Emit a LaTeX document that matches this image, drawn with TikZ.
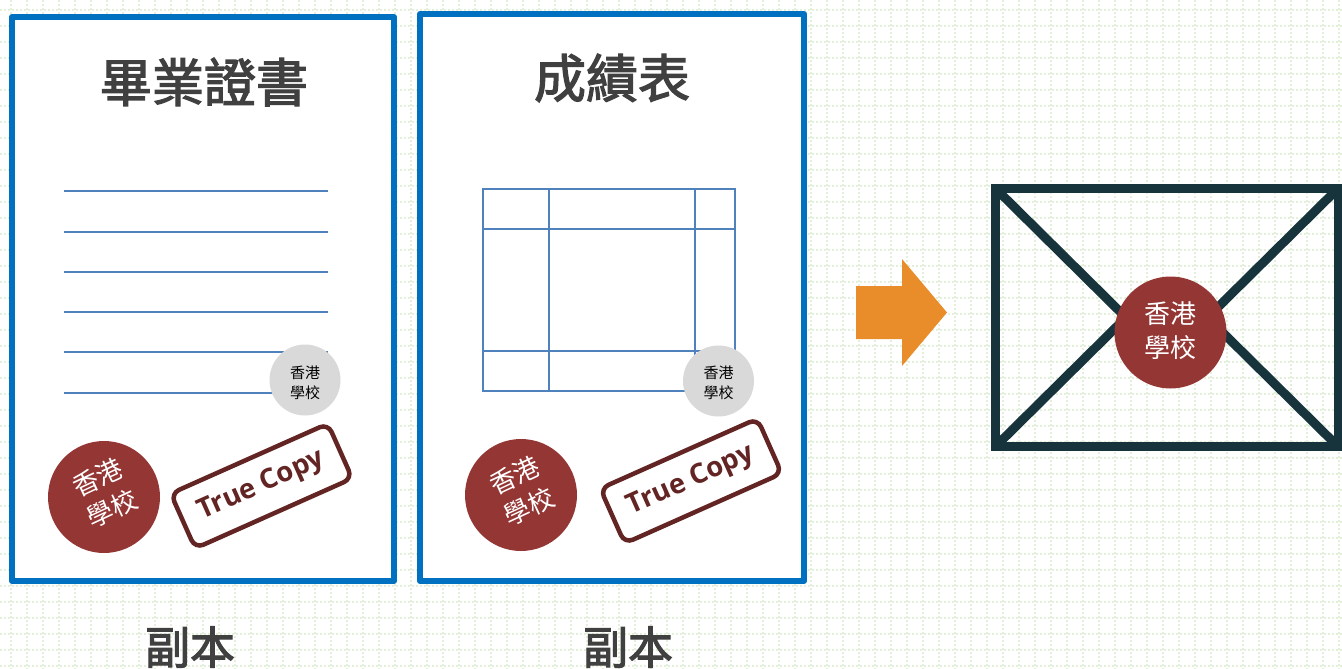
\documentclass[tikz,border=0pt]{standalone}
\usepackage{fontspec}
\usepackage{xcolor}
\newfontfamily\cjk{Noto Sans CJK TC}
\newfontfamily\cjkheavy[FakeBold=2.4]{Noto Sans CJK TC}
\newfontfamily\stampfont[BoldFont={Open Sans Bold}]{Open Sans}
\definecolor{gridgreen}{HTML}{E2EFD9}
\definecolor{docblue}{HTML}{0070C0}
\definecolor{rowblue}{HTML}{4F81BD}
\definecolor{sealred}{HTML}{943634}
\definecolor{stampred}{HTML}{632523}
\definecolor{envdark}{HTML}{17343D}
\definecolor{arroworange}{HTML}{E98C2A}
\definecolor{titlegrey}{HTML}{404040}
\definecolor{sealgrey}{HTML}{D9D9D9}
\tikzset{
	docbox/.style={draw=docblue,line width=6pt,fill=white,line join=round},
	rowline/.style={draw=rowblue,line width=2pt},
	griddots/.style={gridgreen,line width=2pt,dash pattern=on 2pt off 2pt},
	title/.style={text=titlegrey,inner sep=0pt,font=\cjkheavy\fontsize{52}{52}\selectfont},
	copylabel/.style={text=titlegrey,inner sep=0pt,font=\cjkheavy\fontsize{45}{45}\selectfont},
	bigseal/.style={circle,fill=sealred,minimum size=112pt,inner sep=0pt},
	bigtext/.style={text=white,inner sep=0pt,align=center,font=\cjk\fontsize{26}{34}\selectfont},
	smallseal/.style={circle,fill=sealgrey,minimum size=71pt,inner sep=0pt},
	smalltext/.style={text=black,inner sep=0pt,align=center,font=\cjk\fontsize{15}{20}\selectfont},
	stamp/.style={draw=stampred,line width=4.5pt,rounded corners=9pt,fill=white,text=stampred,minimum width=172pt,minimum height=60pt,inner sep=0pt,rotate=24,font=\stampfont\bfseries\fontsize{27.5}{27.5}\selectfont},
	envline/.style={draw=envdark,line width=9pt}
}
\begin{document}
\begin{tikzpicture}[x=1pt,y=-1pt]
	\clip (0,0) rectangle (1342,669);
	% background dots
	\foreach \gx in {11,27,...,1339}
		\draw[griddots] (\gx,0) -- (\gx,669);
	\foreach \gy in {10,26,...,666}
		\draw[griddots] (0,\gy) -- (1342,\gy);

	% left sheet
	\draw[docbox] (12,17) rectangle (394,581);
	\node[title] (titleA) at (204,82) {畢業證書};
	\foreach \ry in {191,231.5,272,312,352,393}
		\draw[rowline] (64,\ry) -- (328,\ry);
	\node[smallseal] (greyA) at (305,380) {};
	\node[smalltext] (greyAtext) at (305,383) {香港\\學校};
	\node[bigseal] (sealA) at (104,497) {};
	\node[bigtext,rotate=25] (sealAtext) at (105,493) {香港\\學校};
	\node[stamp] (stampA) at (261.5,486) {True Copy};
	\node[copylabel] (copyA) at (190,647) {副本};

	% right sheet
	\draw[docbox] (420,14) rectangle (804,581);
	\node[title] (titleB) at (612,78) {成績表};
	\draw[rowline] (483,189) rectangle (735,391);
	\foreach \tx in {549,695}
		\draw[rowline] (\tx,189) -- (\tx,391);
	\foreach \ty in {229,351}
		\draw[rowline] (483,\ty) -- (735,\ty);
	\node[smallseal] (greyB) at (718.5,381) {};
	\node[smalltext] (greyBtext) at (718.5,383) {香港\\學校};
	\node[bigseal] (sealB) at (521,495) {};
	\node[bigtext,rotate=25] (sealBtext) at (522,491) {香港\\學校};
	\node[stamp] (stampB) at (691,481) {True Copy};
	\node[copylabel] (copyB) at (628,647) {副本};

	% arrow
	\fill[arroworange] (856,286) -- (902,286) -- (902,259) -- (947,312.5) -- (902,366) -- (902,339) -- (856,339) -- cycle;

	% envelope
	\coordinate (envTL) at (995.5,188.5);
	\coordinate (envBR) at (1338,446.5);
	\draw[envline] (envTL) rectangle (envBR);
	\draw[envline] (envTL) -- (1130,321.5);
	\draw[envline] (envBR |- envTL) -- (1208,317);
	\draw[envline] (envTL |- envBR) -- (1130,313.5);
	\draw[envline] (envBR) -- (1208,318);
	\node[bigseal] (sealC) at (1170.5,332.5) {};
	\node[bigtext] (sealCtext) at (1170.5,330.5) {香港\\學校};
\end{tikzpicture}
\end{document}
